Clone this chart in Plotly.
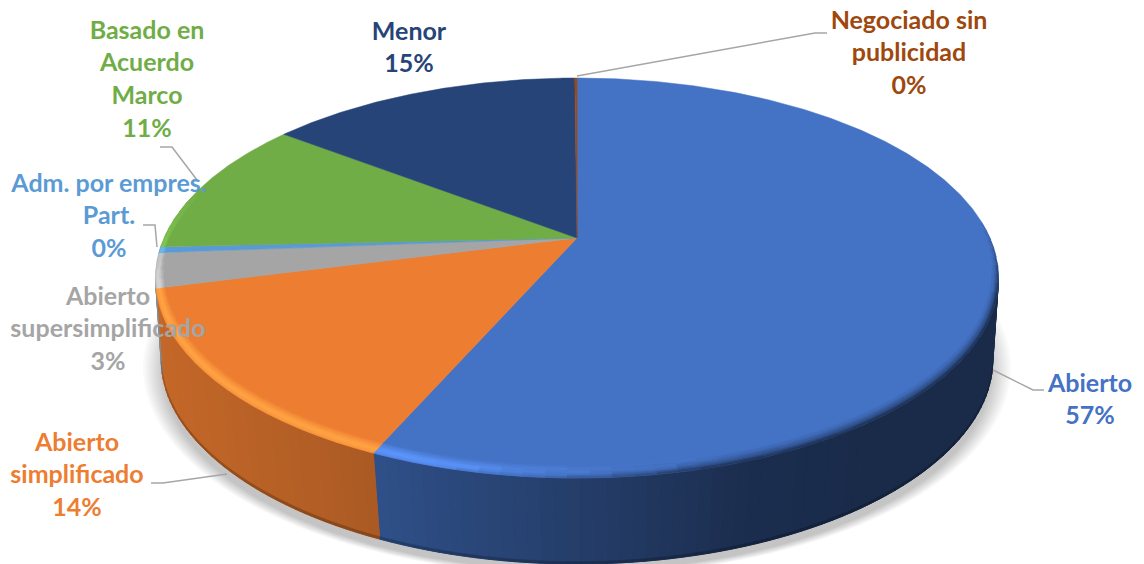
import numpy as np
import plotly.graph_objects as go

# ---------- data ----------
categories = ["Abierto", "Abierto simplificado", "Abierto supersimplificado",
              "Adm. por empres. Part.", "Basado en Acuerdo Marco", "Menor",
              "Negociado sin publicidad"]
values = [56.6, 14.4, 2.8, 0.49, 11.06, 14.55, 0.1]
label_lines = [["Abierto"], ["Abierto", "simplificado"], ["Abierto", "supersimplificado"],
               ["Adm. por empres.", "Part."], ["Basado en", "Acuerdo", "Marco"], ["Menor"],
               ["Negociado sin", "publicidad"]]
colors = ["#4472C4", "#ED7D31", "#A5A5A5", "#5B9BD5", "#70AD47", "#264478", "#9E480E"]

# ---------- layout / style ----------
W, H = 1144, 564
CX, CY = 577, 238       # apex of the disc
AX, BY, K = 413, 192, 0.2   # perspective of the disc
AX_LOW, DEPTH, K_LOW = 409, 86, 0.18     # lower rim of the wall
label_xy = [(1090, 385.5), (77, 444.5), (108, 298.5), (109, 185.5), (147, 32.5), (409, 33.5), (909, 22.5)]
LINE_STEP = 32.6
leaders = [[(577, 76), (815, 33), (827, 33)],
           [(160, 147), (172, 147), (197, 180)],
           [(143, 225), (155, 225), (157, 247)],
           [(151, 483), (163, 483), (227, 474)],
           [(993, 370), (1033, 390), (1044, 390)]]
FONT = "Lato"
shade_x = [150, 375, 380, 600, 750, 850, 1010]
shade_f = [0.83, 0.72, 0.69, 0.52, 0.40, 0.38, 0.38]


def project(theta, r=1.0, ax=AX, dy=0.0, grow=1.0, kx=K):
    t = np.radians(theta)
    u, v = r * np.sin(t), r * np.cos(t)
    return (CX + grow * ax * u / (1 + kx * v),
            CY + dy - grow * BY * v / (1 + K * v))


def low(theta, dy=DEPTH):
    return project(theta, ax=AX_LOW, dy=dy, kx=K_LOW)


def rgb(c):
    c = c.lstrip("#")
    return np.array([int(c[i:i + 2], 16) for i in (0, 2, 4)], float)


def css(a):
    a = np.clip(np.round(a), 0, 255).astype(int)
    return f"rgb({a[0]},{a[1]},{a[2]})"


class Bucket:
    """Polygons grouped by colour so the figure holds fewer traces."""
    def __init__(self):
        self.d = {}

    def add(self, col, xs, ys):
        e = self.d.setdefault(col, ([], []))
        e[0].extend(list(xs) + [xs[0], None])
        e[1].extend(list(ys) + [ys[0], None])

    def traces(self, lw=1.0):
        return [go.Scatter(x=x, y=y, mode="lines", fill="toself", fillcolor=c,
                           line=dict(color=c, width=lw), hoverinfo="skip", showlegend=False)
                for c, (x, y) in self.d.items()]


fig = go.Figure()

# slice boundaries, clockwise from the top
edges = np.concatenate([[0], np.cumsum(values)]) / np.sum(values) * 360
slices = list(zip(edges[:-1], edges[1:], colors))

# soft shadow beneath the wall
for g, dy in zip(np.linspace(1.04, 0.99, 12), np.linspace(DEPTH + 2, DEPTH + 9, 12)):
    th = np.linspace(0, 360, 240)
    x, y = project(th, ax=AX_LOW, dy=dy, grow=g)
    fig.add_trace(go.Scatter(x=x, y=y, mode="lines", fill="toself",
                             fillcolor="rgba(0,0,0,0.018)", line=dict(width=0),
                             hoverinfo="skip", showlegend=False))

# side wall
VIS0, VIS1 = 101.5, 258.5
wall = Bucket()
foot = Bucket()
for a, b, c in slices:
    lo, hi = max(a, VIS0), min(b, VIS1)
    if hi <= lo:
        continue
    n = max(2, int((hi - lo) / 1.5))
    th = np.linspace(lo, hi, n + 1)
    base = rgb(c)
    for t0, t1 in zip(th[:-1], th[1:]):
        x0, y0 = project(t0)
        x1, y1 = project(t1)
        x2, y2 = low(t1)
        x3, y3 = low(t0)
        f = np.interp((x0 + x1) / 2, shade_x, shade_f)
        wall.add(css(base * f), [x0, x1, x2, x3], [y0, y1, y2, y3])
        x4, y4 = low(t1, DEPTH - 2.5)
        x5, y5 = low(t0, DEPTH - 2.5)
        foot.add(css(base * f * 0.78), [x5, x4, x2, x3], [y5, y4, y2, y3])
for tr in wall.traces() + foot.traces(0.5):
    fig.add_trace(tr)

# top face
for a, b, c in slices:
    th = np.linspace(a, b, max(2, int(b - a) * 2 + 2))
    x, y = project(th)
    fig.add_trace(go.Scatter(x=[CX, *x, CX], y=[CY, *y, CY], mode="lines", fill="toself",
                             fillcolor=c, line=dict(color=c, width=0.5),
                             hoverinfo="skip", showlegend=False))

# bevel on the outer rim of the top face
rim = Bucket()
rings = np.linspace(0.0, 1.0, 11)
prof_h = np.interp(rings, [0, 0.3, 0.6, 0.8, 1.0], [0, 0.55, 1.0, 0.9, 0.55])
prof_d = np.interp(rings, [0, 0.4, 0.7, 1.0], [0, 0.12, 0.45, 1.0])
for a, b, c in slices:
    if b - a < 0.5:
        continue
    n = max(2, int((b - a) / 2.5))
    th = np.linspace(a, b, n + 1)
    base = rgb(c)
    for t0, t1 in zip(th[:-1], th[1:]):
        tm = (t0 + t1) / 2
        hl = np.interp(tm, [160, 200, 258, 272, 285], [0, 1, 1, 0.4, 0])
        dk = np.interp(tm, [85, 108, 165, 195], [0, 1, 1, 0])
        if hl < 0.04 and dk < 0.04:
            continue
        width = 0.042 * (0.32 + 0.68 * abs(np.cos(np.radians(tm))))
        xm, _ = project(tm)
        wall_c = base * np.interp(xm, shade_x, shade_f)
        lift = np.minimum(base * 1.26 + 6, 255)
        for i in range(len(rings) - 1):
            r0 = 1 - width * (1 - rings[i])
            r1 = 1 - width * (1 - rings[i + 1])
            p_h = (prof_h[i] + prof_h[i + 1]) / 2 * hl
            p_d = (prof_d[i] + prof_d[i + 1]) / 2 * dk
            if p_h < 0.04 and p_d < 0.04:
                continue
            col = base + (lift - base) * round(p_h * 10) / 10
            col = col + (wall_c - col) * round(p_d * 10) / 10
            xa, ya = project(t0, r0)
            xb, yb = project(t1, r0)
            xc, yc = project(t1, r1)
            xd, yd = project(t0, r1)
            rim.add(css(col), [xa, xb, xc, xd], [ya, yb, yc, yd])
for tr in rim.traces(0.6):
    fig.add_trace(tr)

# leader lines
for pts in leaders:
    fig.add_trace(go.Scatter(x=[p[0] for p in pts], y=[p[1] for p in pts], mode="lines",
                             line=dict(color="#A6A6A6", width=1.5),
                             hoverinfo="skip", showlegend=False))

# labels
pct = [f"{round(v / sum(values) * 100)}%" for v in values]
for lines, p, (x, y), c in zip(label_lines, pct, label_xy, colors):
    txt = lines + [p]
    fig.add_trace(go.Scatter(x=[x] * len(txt), y=[y + i * LINE_STEP for i in range(len(txt))],
                             mode="text", text=txt, textposition="middle center",
                             textfont=dict(family=FONT, size=25, color=c, weight="bold"),
                             hoverinfo="skip", showlegend=False))

fig.update_layout(width=W, height=H, margin=dict(l=0, r=0, t=0, b=0),
                  paper_bgcolor="white", plot_bgcolor="white", showlegend=False)
fig.update_xaxes(range=[0, W], visible=False, fixedrange=True)
fig.update_yaxes(range=[H, 0], visible=False, fixedrange=True)
fig.write_html("out.html", config=dict(displayModeBar=False),
               post_script="document.body.style.margin='0';document.body.style.overflow='hidden';")
